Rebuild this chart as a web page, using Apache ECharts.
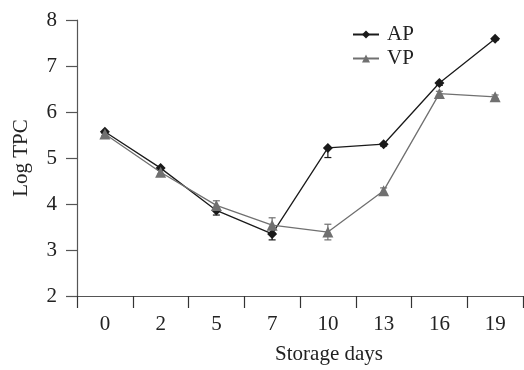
<!DOCTYPE html>
<html>
<head>
<meta charset="utf-8">
<script src="https://cdn.jsdelivr.net/npm/echarts@6/dist/echarts.min.js"></script>
<style>
html,body{margin:0;padding:0;background:#fff;}
#chart{width:524px;height:370px;}
</style>
</head>
<body>
<div id="chart"></div>
<script>
var days = ['0', '2', '5', '7', '10', '13', '16', '19'];
var apValues = [5.57, 4.78, 3.86, 3.35, 5.22, 5.30, 6.63, 7.59];
var vpValues = [5.52, 4.69, 3.97, 3.54, 3.39, 4.29, 6.40, 6.33];
var apErrors = [0.03, 0.04, 0.10, 0.13, 0.21, 0.04, 0.05, 0.03];
var vpErrors = [0.03, 0.04, 0.10, 0.16, 0.17, 0.06, 0.05, 0.04];
var yTicks = [2, 3, 4, 5, 6, 7, 8];

var FONT = "'Liberation Serif','Times New Roman',serif";
var FS = 21;
var AP_COLOR = '#1a1a1a';
var VP_COLOR = '#707070';

function errData(vals, errs, lowerOnly) {
  return vals.map(function (v, i) {
    return [i, v - errs[i], lowerOnly ? v : v + errs[i]];
  });
}

function errRender(color) {
  return function (params, api) {
    var i = api.value(0);
    var lo = api.coord([i, api.value(1)]);
    var hi = api.coord([i, api.value(2)]);
    var w = 3.5;
    var style = { stroke: color, lineWidth: 1.2 };
    return {
      type: 'group',
      children: [
        { type: 'line', shape: { x1: lo[0], y1: lo[1], x2: hi[0], y2: hi[1] }, style: style },
        { type: 'line', shape: { x1: lo[0] - w, y1: lo[1], x2: lo[0] + w, y2: lo[1] }, style: style },
        { type: 'line', shape: { x1: hi[0] - w, y1: hi[1], x2: hi[0] + w, y2: hi[1] }, style: style }
      ]
    };
  };
}

var chart = echarts.init(document.getElementById('chart'), null, { renderer: 'canvas' });
chart.setOption({
  animation: false,
  backgroundColor: '#fff',
  textStyle: { fontFamily: FONT },
  grid: { left: 77, right: 1, top: 20, bottom: 70, containLabel: false },
  legend: {
    orient: 'vertical',
    left: 347,
    top: 19,
    itemWidth: 26,
    itemHeight: 10,
    itemGap: 3,
    textStyle: { fontFamily: FONT, fontSize: FS, color: '#222', padding: [0, 0, 0, 3] },
    data: [
      { name: 'AP' },
      { name: 'VP' }
    ]
  },
  xAxis: {
    type: 'category',
    data: days,
    boundaryGap: true,
    name: 'Storage days',
    nameLocation: 'middle',
    nameGap: 48,
    nameTextStyle: { fontFamily: FONT, fontSize: FS, color: '#222', padding: [0, 0, 0, 58] },
    axisLine: { show: true, lineStyle: { color: '#555', width: 1.2 } },
    axisTick: { show: true, inside: false, length: 12, alignWithLabel: false, lineStyle: { color: '#333', width: 1.2 } },
    axisLabel: { fontFamily: FONT, fontSize: FS, color: '#222', margin: 18 },
    splitLine: { show: false }
  },
  yAxis: {
    type: 'value',
    min: yTicks[0],
    max: yTicks[yTicks.length - 1],
    interval: 1,
    name: 'Log TPC',
    nameLocation: 'middle',
    nameGap: 45,
    nameRotate: 90,
    nameTextStyle: { fontFamily: FONT, fontSize: FS, color: '#222' },
    axisLine: { show: true, lineStyle: { color: '#555', width: 1.2 } },
    axisTick: { show: true, inside: false, length: 11, lineStyle: { color: '#555', width: 1.2 } },
    axisLabel: { fontFamily: FONT, fontSize: FS, color: '#222', margin: 20 },
    splitLine: { show: false }
  },
  series: [
    {
      name: 'AP',
      type: 'line',
      data: apValues,
      symbol: 'diamond',
      symbolSize: 10,
      lineStyle: { color: AP_COLOR, width: 1.3 },
      itemStyle: { color: AP_COLOR },
      z: 3
    },
    {
      name: 'AP_err',
      type: 'custom',
      data: errData(apValues, apErrors, true),
      renderItem: errRender(AP_COLOR),
      encode: { x: 0, y: [1, 2] },
      z: 2,
      silent: true
    },
    {
      name: 'VP',
      type: 'line',
      data: vpValues,
      symbol: 'triangle',
      symbolSize: 11,
      lineStyle: { color: VP_COLOR, width: 1.3 },
      itemStyle: { color: VP_COLOR },
      z: 4
    },
    {
      name: 'VP_err',
      type: 'custom',
      data: errData(vpValues, vpErrors, false),
      renderItem: errRender(VP_COLOR),
      encode: { x: 0, y: [1, 2] },
      z: 2,
      silent: true
    }
  ]
});
</script>
</body>
</html>
